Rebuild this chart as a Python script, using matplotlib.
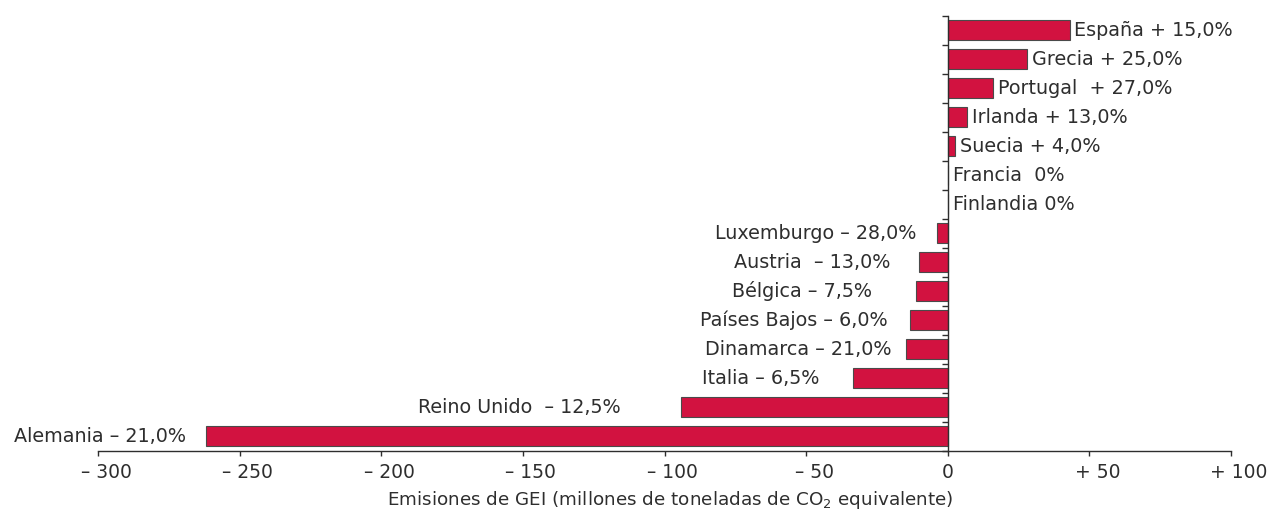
import numpy as np
import matplotlib
matplotlib.use("Agg")
import matplotlib.pyplot as plt
from matplotlib.transforms import ScaledTranslation

plt.rcParams['font.family'] = ['DejaVu Sans']
plt.rcParams['mathtext.fontset'] = 'dejavusans'

# countries from top to bottom, change in GEI emissions (Mt CO2 eq.)
paises = ["España", "Grecia", "Portugal", "Irlanda", "Suecia", "Francia",
          "Finlandia", "Luxemburgo", "Austria", "Bélgica", "Países Bajos",
          "Dinamarca", "Italia", "Reino Unido", "Alemania"]
valores = [43, 28, 16, 6.8, 2.7, 0, 0, -3.7, -10.3, -11.3, -13.2, -14.9,
           -33.5, -94, -262]
etiquetas = ["España + 15,0%", "Grecia + 25,0%", "Portugal  + 27,0%",
             "Irlanda + 13,0%", "Suecia + 4,0%", "Francia  0%",
             "Finlandia 0%", "Luxemburgo – 28,0%", "Austria  – 13,0%",
             "Bélgica – 7,5%", "Países Bajos – 6,0%", "Dinamarca – 21,0%",
             "Italia – 6,5%", "Reino Unido  – 12,5%", "Alemania – 21,0%"]
xticks = [-300, -250, -200, -150, -100, -50, 0, 50, 100]
xticklabels = ["– 300", "– 250", "– 200", "– 150", "– 100", "– 50", "0",
               "+ 50", "+ 100"]

# gap (pixels) between bar end and its label, as placed in the original
gaps_px = [4.5, 4.5, 4.5, 4.5, 4.5, 5, 5, 21, 28, 44, 23, 14, 33, 61, 20]

rojo = '#D21240'
gris = '#2e2e2e'

W, H = 1268, 511
fig = plt.figure(figsize=(W / 100, H / 100), dpi=100)
ax = fig.add_axes([98 / W, 1 - 450.7 / H, (1231 - 98) / W, (450.7 - 15.7) / H])

y = np.arange(len(paises))
ax.barh(y, valores, height=0.69, color=rojo, edgecolor='#4a4a4a',
        linewidth=0.8, zorder=2)

for yi, v, txt, g in zip(y, valores, etiquetas, gaps_px):
    if v >= 0:
        ax.annotate(txt, (v, yi), xytext=(g * 0.72, 0), textcoords='offset points',
                    ha='left', va='center', fontsize=13.8, color=gris)
    else:
        ax.annotate(txt, (v, yi), xytext=(-g * 0.72, 0), textcoords='offset points',
                    ha='right', va='center', fontsize=13.8, color=gris)

ax.set_xlim(-300, 100)
ax.set_ylim(len(paises) - 0.5, -0.5)

for s in ['top', 'right']:
    ax.spines[s].set_visible(False)
ax.spines['left'].set_position(('data', 0))
for s in ['left', 'bottom']:
    ax.spines[s].set_color(gris)
    ax.spines[s].set_linewidth(1.0)
ax.spines['left'].set_zorder(3)

ax.set_yticks(np.arange(len(paises) + 1) - 0.5)
ax.set_yticklabels([])
ax.tick_params(axis='y', direction='out', length=4, width=1.0, color=gris)

ax.set_xticks(xticks)
ax.set_xticklabels(xticklabels, fontsize=13.5, color=gris)
ax.tick_params(axis='x', direction='out', length=3.5, width=1.0, color=gris, pad=5)
shift = ScaledTranslation(8 / 100, 0, fig.dpi_scale_trans)
for lab, t in zip(ax.get_xticklabels(), xticks):
    if t != 0:
        lab.set_transform(lab.get_transform() + shift)

ax.set_xlabel("Emisiones de GEI (millones de toneladas de CO$_2$ equivalente)",
              fontsize=13.2, color=gris, va='baseline')
ax.xaxis.set_label_coords(0.5055, -0.125)

fig.savefig("out.png", dpi=100)
